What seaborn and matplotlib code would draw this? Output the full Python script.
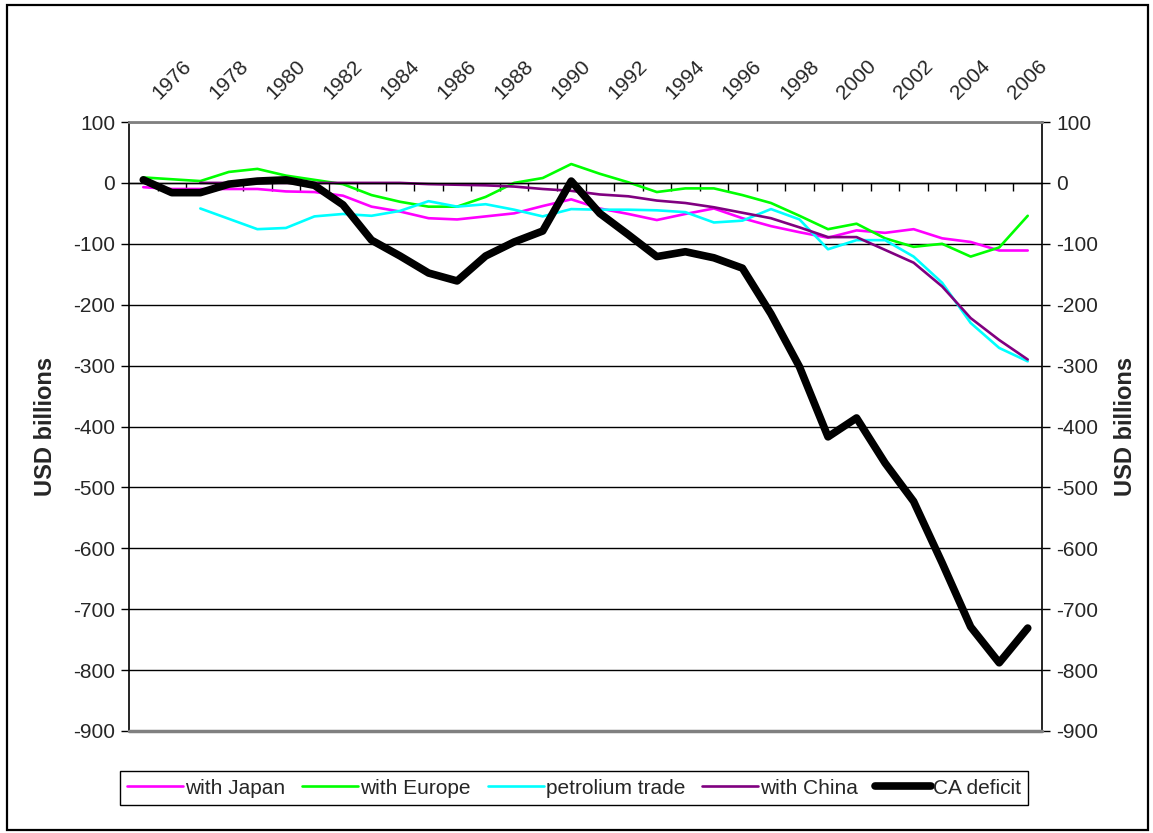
import matplotlib
matplotlib.use("Agg")
import matplotlib.pyplot as plt
import matplotlib.transforms as mtransforms
from matplotlib.patches import Rectangle
import numpy as np
import seaborn as sns

nan = np.nan
years = list(range(1975, 2007))
japan = [-7, -10, -10, -10, -10, -14, -15, -21, -39, -47, -58, -60, -55, -50, -38, -27,
         -42, -51, -61, -51, -42, -58, -71, -81, -90, -78, -82, -76, -91, -97, -111, -111]
europe = [9, 6, 3, 18, 23, 12, 5, -2, -20, -31, -39, -39, -23, 0, 8, 31,
          15, 1, -15, -9, -9, -20, -33, -54, -76, -67, -91, -105, -100, -121, -106, -54]
petroleum = [nan, nan, -42, -59, -76, -74, -55, -51, -54, -46, -30, -39, -35, -44, -55, -43,
             -44, -44, -45, -48, -65, -62, -43, -60, -109, -94, -94, -121, -164, -230, -271, -293]
china = [nan, nan, 0, 0, 0, 0, 0, 0, 0, 0, -2, -3, -4, -6, -10, -13,
         -19, -22, -29, -33, -40, -49, -58, -73, -89, -89, -110, -131, -170, -222, -258, -290]
ca_deficit = [5, -16, -16, -2, 3, 5, -4, -36, -94, -120, -148, -161, -120, -97, -79, 3,
              -50, -85, -121, -113, -123, -140, -215, -302, -417, -386, -460, -523, -624, -729, -788, -731]
label_years = list(range(1976, 2007, 2))

series = [
    ("with Japan", japan, "#FF00FF", 1.9),
    ("with Europe", europe, "#00FF00", 1.9),
    ("petrolium trade", petroleum, "#00FFFF", 1.9),
    ("with China", china, "#800080", 1.9),
    ("CA deficit", ca_deficit, "black", 5.5),
]

sns.set_theme(style="white")
plt.rcParams["font.family"] = ["Liberation Sans", "DejaVu Sans"]
plt.rcParams["axes.unicode_minus"] = False

W, H = 1153, 833
fig = plt.figure(figsize=(W / 100, H / 100), dpi=100)
ax = fig.add_axes([129 / W, 1 - 731 / H, (1042 - 129) / W, (731 - 122) / H])

for name, vals, col, lw in series:
    sns.lineplot(x=years, y=vals, color=col, linewidth=lw, label=name, ax=ax,
                 legend=False, solid_joinstyle="round", solid_capstyle="round")

ax.set_xlim(1974.5, 2006.5)
ax.set_ylim(-900, 100)
ax.set_yticks(range(-900, 101, 100))
ax.yaxis.grid(True, color="black", linewidth=1)
ax.xaxis.grid(False)
ax.set_xlabel(""); ax.set_ylabel("")

ax.set_xticks(label_years)
ax.set_xticklabels([str(y) for y in label_years])
ax.set_xticks(np.arange(1975.5, 2006, 1), minor=True)
ax.tick_params(axis="x", which="major", length=0, bottom=False, top=False,
               labelbottom=False, labeltop=True, labelrotation=45, pad=14, labelsize=15)
ax.tick_params(axis="x", which="minor", bottom=True, top=False, length=6, width=1,
               color="black", direction="out")
ax.tick_params(axis="y", which="major", left=True, right=True, labelleft=True, labelright=True,
               length=6, width=1, color="black", direction="out", labelsize=15, pad=4)
# nudge year labels a few pixels right, as in the original
shift = mtransforms.ScaledTranslation(3 / 100, 0, fig.dpi_scale_trans)
for lab in ax.get_xticklabels():
    lab.set_transform(lab.get_transform() + shift)

ax.spines["bottom"].set_position(("data", 0))
ax.spines["bottom"].set_color("black"); ax.spines["bottom"].set_linewidth(1)
ax.spines["top"].set_color("#808080"); ax.spines["top"].set_linewidth(2)
for s in ("left", "right"):
    ax.spines[s].set_color("black"); ax.spines[s].set_linewidth(1.2)
ax.axhline(-900, color="#808080", linewidth=2.5, zorder=3, clip_on=False)

fig.text(46 / W, 1 - 426 / H, "USD billions", rotation=90, fontweight="bold",
         fontsize=17, ha="center", va="center")
fig.text(1125 / W, 1 - 426 / H, "USD billions", rotation=90, fontweight="bold",
         fontsize=17, ha="center", va="center")

handles, labels = ax.get_legend_handles_labels()
leg = fig.legend(handles, labels, loc="center", bbox_to_anchor=(574 / W, 1 - 788 / H),
                 ncol=5, frameon=True, fancybox=False, edgecolor="black", framealpha=1,
                 handlelength=2.7, handletextpad=0.1, columnspacing=0.8, fontsize=15,
                 borderpad=0.35, borderaxespad=0)
leg.get_frame().set_linewidth(1)

fig.patches.append(Rectangle((7 / W, 1 - 830 / H), 1141 / W, 825 / H, transform=fig.transFigure,
                             fill=False, edgecolor="black", linewidth=1.6))

fig.savefig("out.png", dpi=100)
